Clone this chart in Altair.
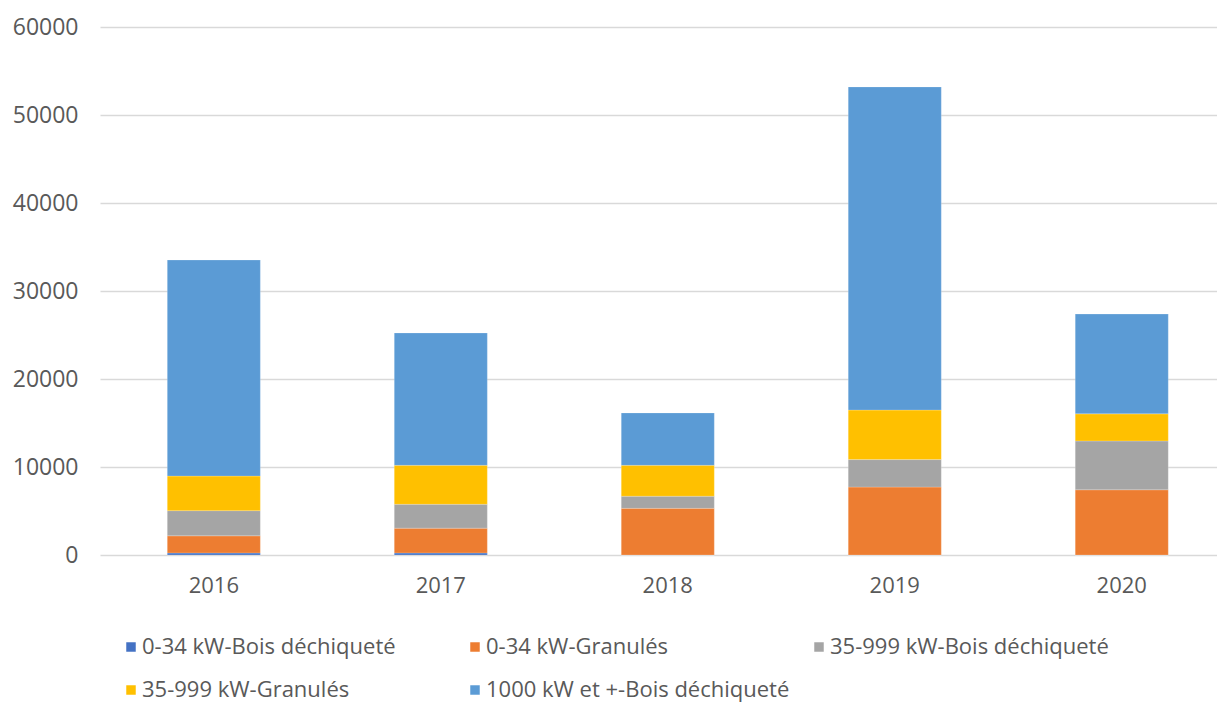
import altair as alt
import pandas as pd

years = ["2016", "2017", "2018", "2019", "2020"]
series = [
    "0-34 kW-Bois déchiqueté",
    "0-34 kW-Granulés",
    "35-999 kW-Bois déchiqueté",
    "35-999 kW-Granulés",
    "1000 kW et +-Bois déchiqueté",
]
colors = ["#4472C4", "#ED7D31", "#A5A5A5", "#FFC000", "#5B9BD5"]
values = {
    "0-34 kW-Bois déchiqueté": [230, 230, 0, 0, 0],
    "0-34 kW-Granulés": [1950, 2820, 5300, 7720, 7410],
    "35-999 kW-Bois déchiqueté": [2860, 2710, 1380, 3120, 5550],
    "35-999 kW-Granulés": [3930, 4430, 3510, 5630, 3080],
    "1000 kW et +-Bois déchiqueté": [24550, 15040, 5950, 36720, 11340],
}

rows = []
for i, s in enumerate(series):
    for y, v in zip(years, values[s]):
        rows.append({"year": y, "series": s, "value": v, "order": i})
df = pd.DataFrame(rows)

FONT = "Open Sans"
GRAY = "#595959"

chart = (
    alt.Chart(df)
    .mark_bar(stroke="white", strokeWidth=0.5, strokeOpacity=0.4)
    .encode(
        x=alt.X(
            "year:N",
            title=None,
            scale=alt.Scale(paddingInner=0.59, paddingOuter=0.2555, align=0.58),
            axis=alt.Axis(
                labelAngle=0,
                labelFont=FONT,
                labelFontSize=22,
                labelColor=GRAY,
                labelPadding=20,
                domain=False,
                ticks=False,
            ),
        ),
        y=alt.Y(
            "value:Q",
            title=None,
            stack="zero",
            scale=alt.Scale(domain=[0, 60000], nice=False),
            axis=alt.Axis(
                values=[0, 10000, 20000, 30000, 40000, 50000, 60000],
                format="d",
                labelFont=FONT,
                labelFontSize=23,
                labelColor=GRAY,
                labelPadding=22,
                domain=False,
                ticks=False,
                gridColor="#D9D9D9",
                gridWidth=1.5,
            ),
        ),
        color=alt.Color(
            "series:N",
            sort=series,
            scale=alt.Scale(domain=series, range=colors),
            legend=alt.Legend(
                title=None,
                orient="none",
                legendX=20,
                legendY=609,
                direction="horizontal",
                columns=3,
                gridAlign="all",
                columnPadding=18,
                rowPadding=21,
                symbolType="square",
                symbolSize=90,
                symbolStrokeWidth=0,
                labelFont=FONT,
                labelFontSize=22,
                labelColor=GRAY,
                labelLimit=0,
                labelOffset=0,
            ),
        ),
        order=alt.Order("order:Q", sort="ascending"),
    )
    .properties(
        width=1117,
        height=528,
        autosize=alt.AutoSizeParams(type="none"),
        padding={"left": 92, "top": 19, "right": 0, "bottom": 149},
    )
    .configure_view(stroke=None)
)

chart.save("out.html", embed_options={"renderer": "svg", "actions": False})
